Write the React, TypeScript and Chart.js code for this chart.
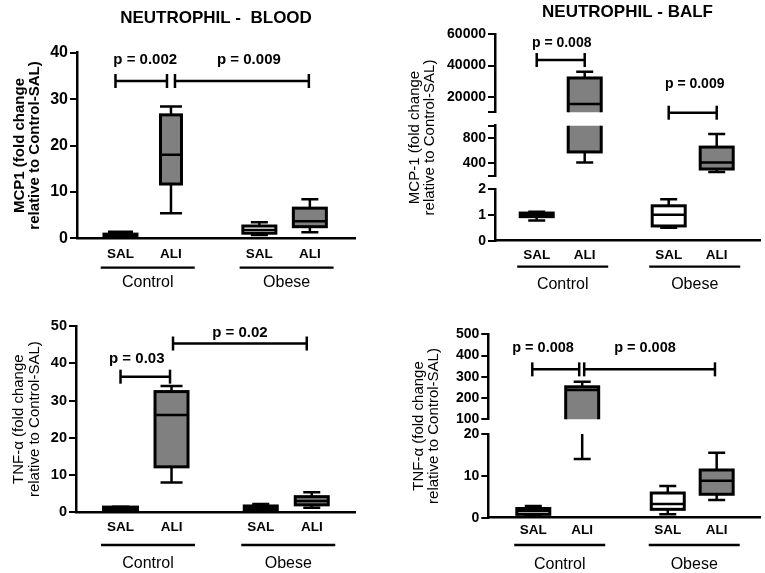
import { useEffect, useRef } from "react";
import { Chart, registerables } from "chart.js";

Chart.register(...registerables);

const FONT = "'Liberation Sans', Arial, Helvetica, sans-serif";

// ---------------- categories ----------------
const groupNames = ["Control", "Obese"];
const treatmentLabels = ["SAL", "ALI", "SAL", "ALI"];
const treatmentGroup = [0, 0, 1, 1];

// ---------------- NEUTROPHIL - BLOOD : MCP1 ----------------
// five-number summaries: [min, Q1, median, Q3, max]
const bloodMcp1ControlSal = [0.2, 0.4, 0.7, 0.9, 1.4];
const bloodMcp1ControlAli = [5.4, 11.7, 18.0, 26.6, 28.4];
const bloodMcp1ObeseSal = [0.7, 1.1, 1.8, 2.65, 3.45];
const bloodMcp1ObeseAli = [1.3, 2.5, 3.7, 6.5, 8.4];
const bloodMcp1Range = [0, 40];
const bloodMcp1Ticks = [0, 10, 20, 30, 40];
const bloodMcp1Comparisons = [[0, 1], [1, 3]];
const bloodMcp1Pvalues = ["p = 0.002", "p = 0.009"];
const bloodMcp1BracketY = [33.9, 33.9];
const bloodMcp1PvalueY = [38.4, 38.4];

// ---------------- NEUTROPHIL - BALF : MCP-1 ----------------
const balfMcp1ControlSal = [0.78, 0.93, 1.0, 1.07, 1.12];
const balfMcp1ControlAli = [410, 580, 15400, 32000, 36000];
const balfMcp1ObeseSal = [0.5, 0.57, 1.0, 1.35, 1.6];
const balfMcp1ObeseAli = [260, 307, 410, 658, 868];
const balfMcp1UpperRange = [10000, 60000];
const balfMcp1UpperTicks = [20000, 40000, 60000];
const balfMcp1MiddleRange = [200, 1000];
const balfMcp1MiddleTicks = [400, 800];
const balfMcp1LowerRange = [0, 2];
const balfMcp1LowerTicks = [0, 1, 2];
const balfMcp1Comparisons = [[0, 1], [2, 3]];
const balfMcp1Pvalues = ["p = 0.008", "p = 0.009"];
const balfMcp1BracketY = [43500, 9740];
const balfMcp1PvalueY = [54400, 28100];

// ---------------- NEUTROPHIL - BLOOD : TNF-α ----------------
const bloodTnfControlSal = [0.1, 0.3, 1.0, 1.4, 1.5];
const bloodTnfControlAli = [8.0, 12.2, 26.1, 32.4, 33.9];
const bloodTnfObeseSal = [0.1, 0.2, 1.0, 1.7, 2.2];
const bloodTnfObeseAli = [1.2, 2.0, 3.0, 4.2, 5.4];
const bloodTnfRange = [0, 50];
const bloodTnfTicks = [0, 10, 20, 30, 40, 50];
const bloodTnfComparisons = [[0, 1], [1, 3]];
const bloodTnfPvalues = ["p = 0.03", "p = 0.02"];
const bloodTnfBracketY = [36.4, 45.3];
const bloodTnfPvalueY = [41.05, 48.2];

// ---------------- NEUTROPHIL - BALF : TNF-α ----------------
const balfTnfControlSal = [0.4, 0.8, 1.6, 2.2, 2.8];
const balfTnfControlAli = [14, 50, 238, 253, 277];
const balfTnfObeseSal = [0.8, 2.0, 3.3, 5.9, 7.6];
const balfTnfObeseAli = [4.2, 5.6, 8.8, 11.4, 15.5];
const balfTnfUpperRange = [100, 500];
const balfTnfUpperTicks = [100, 200, 300, 400, 500];
const balfTnfLowerRange = [0, 20];
const balfTnfLowerTicks = [0, 10, 20];
const balfTnfComparisons = [[0, 1], [1, 3]];
const balfTnfPvalues = ["p = 0.008", "p = 0.008"];
const balfTnfBracketY = [335, 335];
const balfTnfPvalueY = [434, 434];

// ---------------- layout / style ----------------
const slotPositions = [0, 1, 2.75, 3.75];
const GREY = "#808080";

type Segment = { range: number[]; labels: number[]; weight: number };
type Bracket = { from: number; to: number; y: number; labelY: number; label: string; dx0: number; dx1: number; ldx: number };

function brackets(comp: number[][], labels: string[], ys: number[], lys: number[], offs: number[][]): Bracket[] {
  return comp.map((c, i) => ({
    from: c[0], to: c[1], y: ys[i], labelY: lys[i], label: labels[i],
    dx0: offs[i][0], dx1: offs[i][1], ldx: offs[i][2],
  }));
}

const panels: any[] = [
  {
    key: "tl",
    frame: { x: 0, y: 0, w: 380, h: 290 },
    title: "NEUTROPHIL -  BLOOD",
    titlePad: { top: 8, bottom: 24.3 },
    pad: { left: 6, right: 25, top: 0, bottom: 0 },
    yTitle: ["MCP1 (fold change", "relative to Control-SAL)"],
    yTitleFont: { size: 15, weight: "bold", lh: 15 },
    yTitlePad: 6.5, yTitleWidth: 44, yAxisWidth: 27,
    xAxisHeight: 51.7, xLabelPad: 7.6, xRange: [-0.861, 4.644],
    tickSize: 16, pSize: 15,
    underlineOffset: 29.4, groupLabelOffset: 44.7, underlineHalf: 47,
    segments: [{ range: bloodMcp1Range, labels: bloodMcp1Ticks, weight: 1 }],
    gaps: [],
    boxes: [bloodMcp1ControlSal, bloodMcp1ControlAli, bloodMcp1ObeseSal, bloodMcp1ObeseAli],
    fills: ["#000", GREY, "#fff", GREY],
    boxWidths: [33, 21, 33, 33],
    capWidths: [25, 22, 17, 17],
    brackets: brackets(bloodMcp1Comparisons, bloodMcp1Pvalues, bloodMcp1BracketY, bloodMcp1PvalueY, [[-5, -4, 4], [4, -1, 7]]),
  },
  {
    key: "tr",
    frame: { x: 380, y: 0, w: 385, h: 290 },
    title: "NEUTROPHIL - BALF",
    titlePad: { top: 2.3, bottom: 11.6 },
    pad: { left: 20, right: 5, top: 0, bottom: 0 },
    yTitle: ["MCP-1 (fold change", "relative to Control-SAL)"],
    yTitleFont: { size: 15, weight: "normal", lh: 15 },
    yTitlePad: 7.5, yTitleWidth: 40, yAxisWidth: 55,
    xAxisHeight: 49.3, xLabelPad: 6.2, xRange: [-0.869, 4.652],
    tickSize: 14, pSize: 14,
    underlineOffset: 26, groupLabelOffset: 44.3, underlineHalf: 45.5,
    segments: [
      { range: balfMcp1UpperRange, labels: balfMcp1UpperTicks, weight: 78 },
      { range: balfMcp1MiddleRange, labels: balfMcp1MiddleTicks, weight: 50 },
      { range: balfMcp1LowerRange, labels: balfMcp1LowerTicks, weight: 51.7 },
    ],
    gaps: [13.4, 13.3],
    boxes: [balfMcp1ControlSal, balfMcp1ControlAli, balfMcp1ObeseSal, balfMcp1ObeseAli],
    fills: ["#000", GREY, "#fff", GREY],
    boxWidths: [33, 33, 33, 33],
    capWidths: [17, 17, 17, 17],
    brackets: brackets(balfMcp1Comparisons, balfMcp1Pvalues, balfMcp1BracketY, balfMcp1PvalueY, [[0, 0, 1], [0, 0, 2]]),
  },
  {
    key: "bl",
    frame: { x: 0, y: 290, w: 380, h: 283 },
    title: "",
    titlePad: { top: 0, bottom: 0 },
    pad: { left: 4, right: 25, top: 36, bottom: 0 },
    yTitle: ["TNF-α (fold change", "relative to Control-SAL)"],
    yTitleFont: { size: 15, weight: "normal", lh: 15.5 },
    yTitlePad: 7.5, yTitleWidth: 44, yAxisWidth: 28,
    xAxisHeight: 60.7, xLabelPad: 6.9, xRange: [-0.873, 4.598],
    tickSize: 14.5, pSize: 15,
    underlineOffset: 32.7, groupLabelOffset: 51.7, underlineHalf: 47,
    segments: [{ range: bloodTnfRange, labels: bloodTnfTicks, weight: 1 }],
    gaps: [],
    boxes: [bloodTnfControlSal, bloodTnfControlAli, bloodTnfObeseSal, bloodTnfObeseAli],
    fills: ["#000", GREY, "#000", GREY],
    boxWidths: [34, 33, 33, 33],
    capWidths: [17, 22, 17, 17],
    brackets: brackets(bloodTnfComparisons, bloodTnfPvalues, bloodTnfBracketY, bloodTnfPvalueY, [[0, -1.5, -8.5], [1.5, -5, 0]]),
  },
  {
    key: "br",
    frame: { x: 380, y: 290, w: 385, h: 283 },
    title: "",
    titlePad: { top: 0, bottom: 0 },
    pad: { left: 20, right: 5, top: 44.3, bottom: 0 },
    yTitle: ["TNF-α (fold change", "relative to Control-SAL)"],
    yTitleFont: { size: 15, weight: "normal", lh: 15.5 },
    yTitlePad: 11, yTitleWidth: 44, yAxisWidth: 44.3,
    xAxisHeight: 55.3, xLabelPad: 4.9, xRange: [-0.92, 4.636],
    tickSize: 14, pSize: 14.5,
    underlineOffset: 27.3, groupLabelOffset: 47.3, underlineHalf: 45.5,
    segments: [
      { range: balfTnfUpperRange, labels: balfTnfUpperTicks, weight: 85 },
      { range: balfTnfLowerRange, labels: balfTnfLowerTicks, weight: 83.7 },
    ],
    gaps: [14.7],
    boxes: [balfTnfControlSal, balfTnfControlAli, balfTnfObeseSal, balfTnfObeseAli],
    fills: ["#fff", GREY, "#fff", GREY],
    boxWidths: [33, 33, 33, 33],
    capWidths: [17, 17, 17, 17],
    brackets: brackets(balfTnfComparisons, balfTnfPvalues, balfTnfBracketY, balfTnfPvalueY, [[-1, -3, -12.7], [2, -1.7, -4.6]]),
  },
];

function line(ctx: CanvasRenderingContext2D, x0: number, y0: number, x1: number, y1: number) {
  ctx.beginPath();
  ctx.moveTo(x0, y0);
  ctx.lineTo(x1, y1);
  ctx.stroke();
}

function makeOverlay(p: any) {
  return {
    id: "boxOverlay",
    afterDraw(chart: any) {
      const ctx: CanvasRenderingContext2D = chart.ctx;
      const area = chart.chartArea;
      const xs = chart.scales.x;
      const px = (i: number) => xs.getPixelForValue(slotPositions[i]);
      const clampY = (v: number) => Math.max(-5000, Math.min(5000, v));
      ctx.save();
      ctx.strokeStyle = "#000";
      ctx.lineCap = "butt";

      // boxes, drawn piecewise in every axis segment
      p.boxes.forEach((b: number[], i: number) => {
        const [lo, q1, med, q3, hi] = b;
        const cx = px(i);
        const w = p.boxWidths[i];
        const cw = p.capWidths[i];
        p.segments.forEach((_: any, si: number) => {
          const s = chart.scales["y" + si];
          const Y = (v: number) => clampY(s.getPixelForValue(v));
          ctx.save();
          ctx.beginPath();
          ctx.rect(0, s.top, chart.width, s.bottom - s.top);
          ctx.clip();
          ctx.lineWidth = 2.5;
          line(ctx, cx, Y(q3), cx, Y(hi));
          line(ctx, cx - cw / 2, Y(hi), cx + cw / 2, Y(hi));
          line(ctx, cx, Y(q1), cx, Y(lo));
          line(ctx, cx - cw / 2, Y(lo), cx + cw / 2, Y(lo));
          const top = Y(q3);
          const bot = Y(q1);
          ctx.fillStyle = p.fills[i];
          ctx.fillRect(cx - w / 2, top, w, bot - top);
          ctx.lineWidth = 3;
          ctx.strokeRect(cx - w / 2, top, w, bot - top);
          ctx.lineWidth = 2.5;
          line(ctx, cx - w / 2, Y(med), cx + w / 2, Y(med));
          ctx.restore();
        });
      });

      // significance brackets and p values
      ctx.fillStyle = "#000";
      ctx.textAlign = "center";
      ctx.textBaseline = "middle";
      p.brackets.forEach((br: any) => {
        const s = chart.scales.y0;
        const y = s.getPixelForValue(br.y);
        const x0 = px(br.from) + br.dx0;
        const x1 = px(br.to) + br.dx1;
        ctx.lineWidth = 2.5;
        line(ctx, x0, y, x1, y);
        line(ctx, x0, y - 7, x0, y + 7);
        line(ctx, x1, y - 7, x1, y + 7);
        ctx.font = `bold ${p.pSize}px ${FONT}`;
        ctx.fillText(br.label, (x0 + x1) / 2 + br.ldx, s.getPixelForValue(br.labelY));
      });

      // group underlines + labels
      groupNames.forEach((g, gi) => {
        const idx = treatmentGroup.map((gg, i) => (gg === gi ? i : -1)).filter((i) => i >= 0);
        const cx = idx.reduce((a, i) => a + px(i), 0) / idx.length + 2;
        const yl = area.bottom + p.underlineOffset;
        ctx.lineWidth = 2.3;
        line(ctx, cx - p.underlineHalf, yl, cx + p.underlineHalf, yl);
        ctx.font = `16px ${FONT}`;
        ctx.fillText(g, cx, area.bottom + p.groupLabelOffset);
      });
      ctx.restore();
    },
  };
}

function buildConfig(p: any) {
  const scales: any = {
    x: {
      type: "linear",
      position: "bottom",
      min: p.xRange[0],
      max: p.xRange[1],
      bounds: "data",
      grid: { display: false, drawTicks: false },
      border: { display: true, color: "#000", width: 2.5 },
      ticks: {
        color: "#000",
        font: { family: FONT, size: 13.5, weight: "bold", lineHeight: 1.2 },
        padding: p.xLabelPad,
        maxRotation: 0,
        autoSkip: false,
        callback: (_v: any, i: number) => treatmentLabels[i] ?? "",
      },
      afterBuildTicks: (s: any) => {
        s.ticks = slotPositions.map((v) => ({ value: v }));
      },
      afterFit: (s: any) => {
        s.height = p.xAxisHeight;
      },
    },
    yTitle: {
      type: "linear",
      position: "left",
      weight: 100,
      min: 0,
      max: 1,
      grid: { display: false },
      border: { display: false },
      ticks: { display: false },
      title: {
        display: true,
        text: p.yTitle,
        color: "#000",
        font: { family: FONT, size: p.yTitleFont.size, weight: p.yTitleFont.weight, lineHeight: p.yTitleFont.lh + "px" },
        padding: { top: p.yTitlePad, bottom: 0 },
      },
      afterFit: (s: any) => {
        s.width = p.yTitleWidth;
      },
    },
  };
  let order = 50;
  p.segments.forEach((seg: Segment, i: number) => {
    const marks = Array.from(new Set([seg.range[0], ...seg.labels, seg.range[1]])).sort((a, b) => a - b);
    scales["y" + i] = {
      type: "linear",
      position: "left",
      stack: "ys",
      stackWeight: seg.weight,
      weight: order--,
      min: seg.range[0],
      max: seg.range[1],
      bounds: "data",
      grid: { display: true, drawOnChartArea: false, drawTicks: true, tickLength: 7, color: "#000", lineWidth: 2 },
      border: { display: true, color: "#000", width: 2.5 },
      ticks: {
        color: "#000",
        font: { family: FONT, size: p.tickSize, weight: "bold" },
        padding: 2,
        autoSkip: false,
        callback: (v: number) => (seg.labels.includes(v) ? String(v) : ""),
      },
      afterBuildTicks: (s: any) => {
        s.ticks = marks.map((v) => ({ value: v }));
      },
      afterFit: (s: any) => {
        s.width = p.yAxisWidth;
      },
    };
    if (i < p.gaps.length) {
      scales["gap" + i] = {
        type: "linear",
        position: "left",
        stack: "ys",
        stackWeight: p.gaps[i],
        weight: order--,
        min: 0,
        max: 1,
        grid: { display: false },
        border: { display: false },
        ticks: { display: false },
        afterFit: (s: any) => {
          s.width = 0;
        },
      };
    }
  });

  return {
    type: "scatter",
    data: { datasets: [] },
    options: {
      responsive: false,
      animation: false,
      events: [],
      layout: { padding: p.pad },
      scales,
      plugins: {
        legend: { display: false },
        tooltip: { enabled: false },
        title: {
          display: !!p.title,
          text: p.title,
          fullSize: false,
          color: "#000",
          font: { family: FONT, size: 17, weight: "bold", lineHeight: 1.2 },
          padding: p.titlePad,
        },
      },
    },
    plugins: [makeOverlay(p)],
  } as any;
}

function Panel({ p }: { p: any }) {
  const ref = useRef<HTMLCanvasElement>(null);
  useEffect(() => {
    const chart = new Chart(ref.current as HTMLCanvasElement, buildConfig(p));
    return () => chart.destroy();
  }, [p]);
  return (
    <canvas
      ref={ref}
      width={p.frame.w}
      height={p.frame.h}
      style={{ position: "absolute", left: p.frame.x, top: p.frame.y, width: p.frame.w, height: p.frame.h }}
    />
  );
}

export default function App() {
  return (
    <div style={{ position: "absolute", left: 0, top: 0, width: 765, height: 573, background: "#fff", overflow: "hidden" }}>
      {panels.map((p) => (
        <Panel key={p.key} p={p} />
      ))}
    </div>
  );
}
